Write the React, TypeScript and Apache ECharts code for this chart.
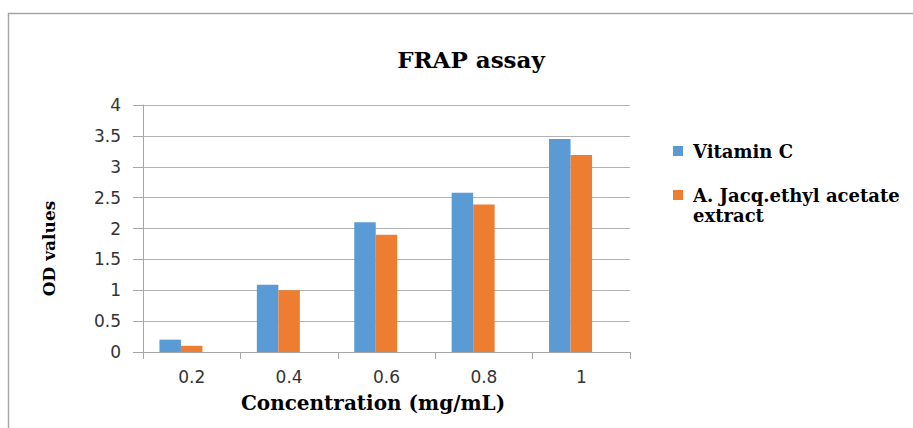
import React, { useEffect, useRef } from "react";
import * as echarts from "echarts";

const categories = ["0.2", "0.4", "0.6", "0.8", "1"];
const vitaminC = [0.2, 1.09, 2.1, 2.58, 3.45];
const extract = [0.1, 1.0, 1.9, 2.39, 3.19];
const emptySeries = [null, null, null, null, null];
const seriesNames = ["Vitamin C", "A. Jacq.ethyl acetate\nextract"];
const seriesColors = ["#5b9bd5", "#ed7d31"];

export default function App() {
  const ref = useRef<HTMLDivElement>(null);
  useEffect(() => {
    if (!ref.current) return;
    const chart = echarts.init(ref.current, null, { renderer: "svg" });
    const serif = "DejaVu Serif";
    const sans = "DejaVu Sans";
    const legendFont = { fontFamily: serif, fontWeight: "bold", fontSize: 18, fill: "#000" };
    chart.setOption({
      animation: false,
      backgroundColor: "#ffffff",
      title: {
        text: "FRAP assay",
        left: 466,
        top: 43,
        textAlign: "center",
        textStyle: { fontFamily: serif, fontWeight: "bold", fontSize: 23, color: "#000" },
      },
      grid: { left: 143, right: 283, top: 105, bottom: 76, containLabel: false },
      xAxis: {
        type: "category",
        data: categories,
        name: "Concentration (mg/mL)",
        nameLocation: "middle",
        nameGap: 41,
        nameTextStyle: { fontFamily: serif, fontWeight: "bold", fontSize: 20, color: "#000", padding: [0, 27, 0, 0] },
        axisLine: { lineStyle: { color: "#a6a6a6", width: 1 } },
        axisTick: { show: true, length: 7, lineStyle: { color: "#a6a6a6" } },
        axisLabel: { fontFamily: sans, fontSize: 17, color: "#333", margin: 16 },
      },
      yAxis: {
        type: "value",
        min: 0,
        max: 4,
        interval: 0.5,
        name: "OD values",
        nameLocation: "middle",
        nameRotate: 90,
        nameGap: 86,
        nameTextStyle: { fontFamily: serif, fontWeight: "bold", fontSize: 17, color: "#000", padding: [0, 40, 0, 0] },
        axisLine: { show: true, lineStyle: { color: "#a6a6a6", width: 1 } },
        axisTick: { show: true, length: 10, lineStyle: { color: "#a6a6a6" } },
        axisLabel: { fontFamily: sans, fontSize: 17, color: "#333", margin: 22 },
        splitLine: { lineStyle: { color: "#b3b3b3", width: 1 } },
      },
      series: [
        { name: seriesNames[0], type: "bar", data: vitaminC, barWidth: 21.5, barGap: "0%", itemStyle: { color: seriesColors[0] } },
        { name: seriesNames[1], type: "bar", data: extract, barWidth: 21.5, barGap: "0%", itemStyle: { color: seriesColors[1] } },
        { name: "empty", type: "bar", data: emptySeries, barWidth: 21.5, barGap: "0%", itemStyle: { color: "#a5a5a5" } },
      ],
      graphic: [
        {
          type: "rect",
          shape: { x: 8.5, y: 13.5, width: 1000, height: 1000 },
          style: { fill: "none", stroke: "#a6a6a6", lineWidth: 1.5 },
          silent: true,
          z: -10,
        },
        { type: "rect", shape: { x: 673, y: 146, width: 10, height: 10 }, style: { fill: seriesColors[0] } },
        {
          type: "text",
          x: 693,
          y: 151,
          style: { ...legendFont, text: seriesNames[0], verticalAlign: "middle", align: "left" },
        },
        { type: "rect", shape: { x: 673, y: 190, width: 10, height: 10 }, style: { fill: seriesColors[1] } },
        {
          type: "text",
          x: 693,
          y: 185,
          style: { ...legendFont, text: seriesNames[1], lineHeight: 20, verticalAlign: "top", align: "left" },
        },
      ],
    });
    return () => chart.dispose();
  }, []);
  return <div ref={ref} style={{ position: "absolute", left: 0, top: 0, width: 913, height: 428 }} />;
}
